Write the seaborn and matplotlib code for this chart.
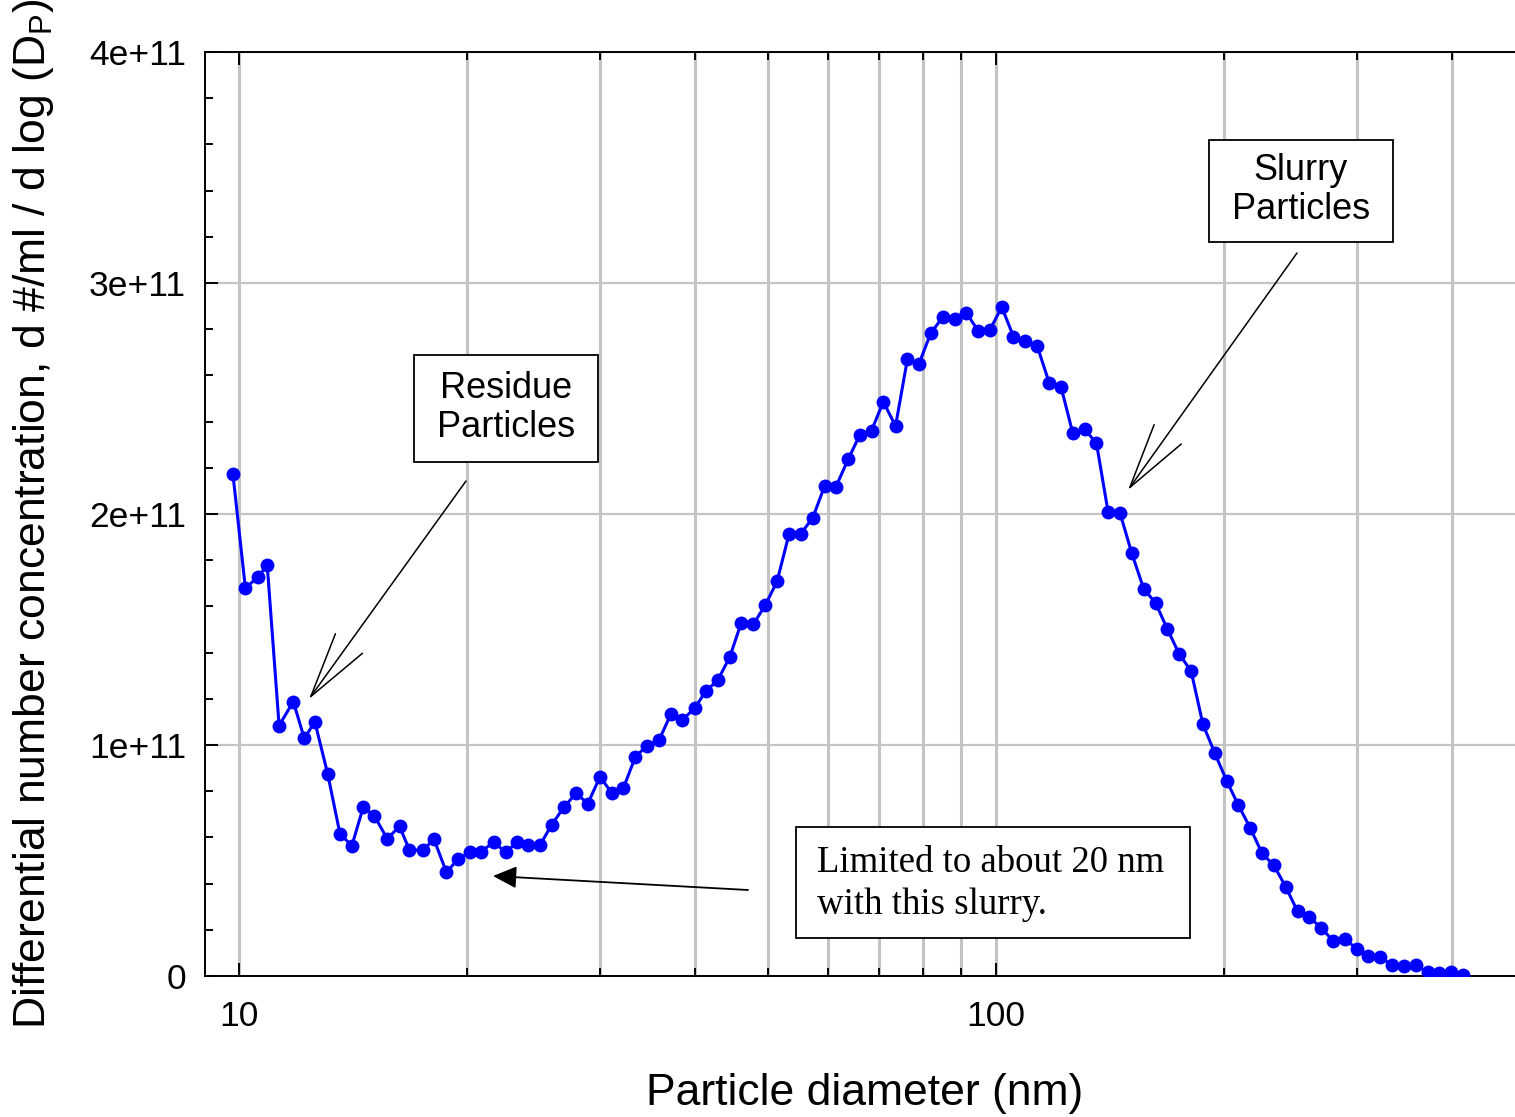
import matplotlib
matplotlib.use("Agg")
import matplotlib.pyplot as plt
import seaborn as sns
import pandas as pd
from matplotlib.ticker import FixedLocator, FixedFormatter, MultipleLocator, LogLocator, NullFormatter
from matplotlib.patches import Rectangle

# ---------------- data ----------------
diameter_nm = [
    9.82, 10.2, 10.6, 10.9, 11.3, 11.8, 12.2, 12.6, 13.1, 13.6,
    14.1, 14.6, 15.1, 15.7, 16.3, 16.8, 17.5, 18.1, 18.8, 19.5,
    20.2, 20.9, 21.7, 22.5, 23.3, 24.1, 25.0, 25.9, 26.9, 27.9,
    28.9, 30.0, 31.1, 32.2, 33.4, 34.6, 35.9, 37.2, 38.5, 40.0,
    41.4, 42.9, 44.5, 46.1, 47.8, 49.6, 51.4, 53.3, 55.2, 57.3,
    59.4, 61.5, 63.8, 66.1, 68.5, 71.0, 73.7, 76.4, 79.1, 82.0,
    85.1, 88.2, 91.4, 94.7, 98.2, 101.8, 105.5, 109.4, 113.4, 117.6,
    121.9, 126.3, 131.0, 135.8, 140.7, 145.9, 151.2, 156.8, 162.5, 168.5,
    174.7, 181.1, 187.7, 194.6, 201.7, 209.1, 216.7, 224.7, 232.9, 241.4,
    250.3, 259.5, 269.0, 278.8, 289.0, 299.6, 310.6, 322.0, 333.8, 346.0,
    358.7, 371.8, 385.4, 399.5, 414.2,
]

# concentration in units of 1e11 (#/ml per dlogDp)
concentration_e11 = [
    2.172, 1.678, 1.729, 1.778, 1.084, 1.188, 1.029, 1.100, 0.875, 0.615,
    0.564, 0.732, 0.693, 0.594, 0.648, 0.545, 0.545, 0.592, 0.449, 0.508,
    0.536, 0.538, 0.580, 0.536, 0.579, 0.567, 0.568, 0.655, 0.733, 0.791,
    0.746, 0.863, 0.791, 0.813, 0.949, 0.997, 1.022, 1.133, 1.108, 1.159,
    1.234, 1.280, 1.380, 1.530, 1.522, 1.606, 1.709, 1.913, 1.913, 1.984,
    2.122, 2.119, 2.237, 2.342, 2.361, 2.486, 2.381, 2.670, 2.648, 2.782,
    2.853, 2.844, 2.871, 2.794, 2.797, 2.896, 2.768, 2.750, 2.727, 2.568,
    2.551, 2.352, 2.367, 2.306, 2.007, 2.003, 1.830, 1.675, 1.616, 1.501,
    1.393, 1.320, 1.090, 0.965, 0.846, 0.739, 0.642, 0.531, 0.479, 0.387,
    0.280, 0.255, 0.208, 0.153, 0.162, 0.117, 0.085, 0.082, 0.046, 0.045,
    0.046, 0.017, 0.012, 0.017, 0.003,
]

ytick_values = [0.0, 1e11, 2e11, 3e11, 4e11]
ytick_labels = ["0", "1e+11", "2e+11", "3e+11", "4e+11"]
xtick_values = [10, 100]
xtick_labels = ["10", "100"]

xlabel = "Particle diameter (nm)"
ylabel = r"Differential number concentration, d #/ml / d log (D$_\mathrm{P}$)"
residue_text = "Residue\nParticles"
slurry_text = "Slurry\nParticles"
limit_text = "Limited to about 20 nm\nwith this slurry."

# ---------------- style ----------------
sns.set_theme(style="white")
plt.rcParams["font.family"] = ["Liberation Sans", "DejaVu Sans"]
plt.rcParams["mathtext.fontset"] = "custom"
plt.rcParams["mathtext.rm"] = "Liberation Sans"
plt.rcParams["mathtext.it"] = "Liberation Sans:italic"
plt.rcParams["text.color"] = "black"
plt.rcParams["axes.labelcolor"] = "black"
plt.rcParams["xtick.color"] = "black"
plt.rcParams["ytick.color"] = "black"
plt.rcParams["xtick.labelcolor"] = "black"
plt.rcParams["ytick.labelcolor"] = "black"

W, H = 1515, 1117
fig = plt.figure(figsize=(W / 100, H / 100), dpi=100)
fig.patch.set_facecolor("white")

# axes in pixel geometry: left 205, right 1525 (beyond the image), top 52, bottom 976
L, R, T, B = 205, 1525, 52, 976
ax = fig.add_axes([L / W, (H - B) / H, (R - L) / W, (B - T) / H])
ax.set_facecolor("white")

df = pd.DataFrame({"d": diameter_nm,
                   "c": [v * 1e11 for v in concentration_e11]})

sns.lineplot(data=df, x="d", y="c", ax=ax, color="#0000ff", linewidth=2.2,
             marker="o", markersize=10, markeredgewidth=0,
             markerfacecolor="#0000ff", sort=False, zorder=5)

ax.set_xscale("log")
ax.set_xlim(9.02, 500)
ax.set_ylim(0, 4e11)

ax.xaxis.set_major_locator(FixedLocator(xtick_values))
ax.xaxis.set_major_formatter(FixedFormatter(xtick_labels))
ax.xaxis.set_minor_locator(LogLocator(base=10, subs=[2, 3, 4, 5, 6, 7, 8, 9]))
ax.xaxis.set_minor_formatter(NullFormatter())
ax.yaxis.set_major_locator(FixedLocator(ytick_values))
ax.yaxis.set_major_formatter(FixedFormatter(ytick_labels))
ax.yaxis.set_minor_locator(MultipleLocator(2e10))

ax.grid(False)
ax.xaxis.grid(True, which="both", color="#c4c4c4", linewidth=2.2, zorder=0)
ax.yaxis.grid(True, which="major", color="#c4c4c4", linewidth=1.6, zorder=0)
ax.set_axisbelow(True)

for s in ["left", "top", "bottom"]:
    ax.spines[s].set_visible(True)
    ax.spines[s].set_color("black")
    ax.spines[s].set_linewidth(1.4)
ax.spines["right"].set_visible(False)

ax.tick_params(which="both", direction="in", top=True, right=False,
               left=True, bottom=True, color="black", width=1.4)
ax.tick_params(which="major", length=9.5)
ax.tick_params(which="minor", length=6)
ax.tick_params(axis="x", which="major", labelsize=25.5, pad=17, labelcolor="black")
ax.tick_params(axis="y", which="major", labelsize=25.5, pad=13.5, labelcolor="black")

ax.set_xlabel(xlabel, fontsize=32, va="center", color="black")
ax.xaxis.set_label_coords(0.5, (B - 1093) / (B - T))
ax.set_ylabel(ylabel, fontsize=32, va="center", color="black")
ax.yaxis.set_label_coords((34 - L) / (R - L), 0.5)


def afx(px):
    return (px - L) / (R - L)


def afy(py):
    return (B - py) / (B - T)


def box(x0, y0, x1, y1):
    ax.add_patch(Rectangle((afx(x0), afy(y1)), afx(x1) - afx(x0), afy(y0) - afy(y1),
                           transform=ax.transAxes, facecolor="white",
                           edgecolor="black", linewidth=1.3, zorder=7,
                           clip_on=False))


# Residue particles
box(414, 355, 598, 462)
ax.text(afx(506), afy(408), residue_text, transform=ax.transAxes, fontsize=26,
        ha="center", va="center", linespacing=1.15, zorder=8, color="black")
ax.annotate("", xy=(afx(309), afy(699)), xytext=(afx(466), afy(481)),
            xycoords="axes fraction", textcoords="axes fraction",
            arrowprops=dict(arrowstyle="->,head_length=47,head_width=12",
                            mutation_scale=1, color="black", linewidth=1.1,
                            shrinkA=0, shrinkB=0), zorder=8)

# Slurry particles
box(1209, 140, 1393, 242)
ax.text(afx(1301), afy(190), slurry_text, transform=ax.transAxes, fontsize=26,
        ha="center", va="center", linespacing=1.15, zorder=8, color="black")
ax.annotate("", xy=(afx(1128), afy(490)), xytext=(afx(1297), afy(253)),
            xycoords="axes fraction", textcoords="axes fraction",
            arrowprops=dict(arrowstyle="->,head_length=47,head_width=12",
                            mutation_scale=1, color="black", linewidth=1.1,
                            shrinkA=0, shrinkB=0), zorder=8)

# Limited to about 20 nm
box(796, 827, 1190, 938)
ax.text(afx(817), afy(884), limit_text, transform=ax.transAxes, fontsize=26.5,
        ha="left", va="center", linespacing=1.27, zorder=8, color="black",
        family=["Liberation Serif", "DejaVu Serif"])
ax.annotate("", xy=(afx(493), afy(876)), xytext=(afx(748), afy(890)),
            xycoords="axes fraction", textcoords="axes fraction",
            arrowprops=dict(arrowstyle="-|>,head_length=14.5,head_width=6.8",
                            mutation_scale=1, color="black", linewidth=1.3,
                            shrinkA=0, shrinkB=0), zorder=8)

fig.savefig("out.png", dpi=100, facecolor="white")
